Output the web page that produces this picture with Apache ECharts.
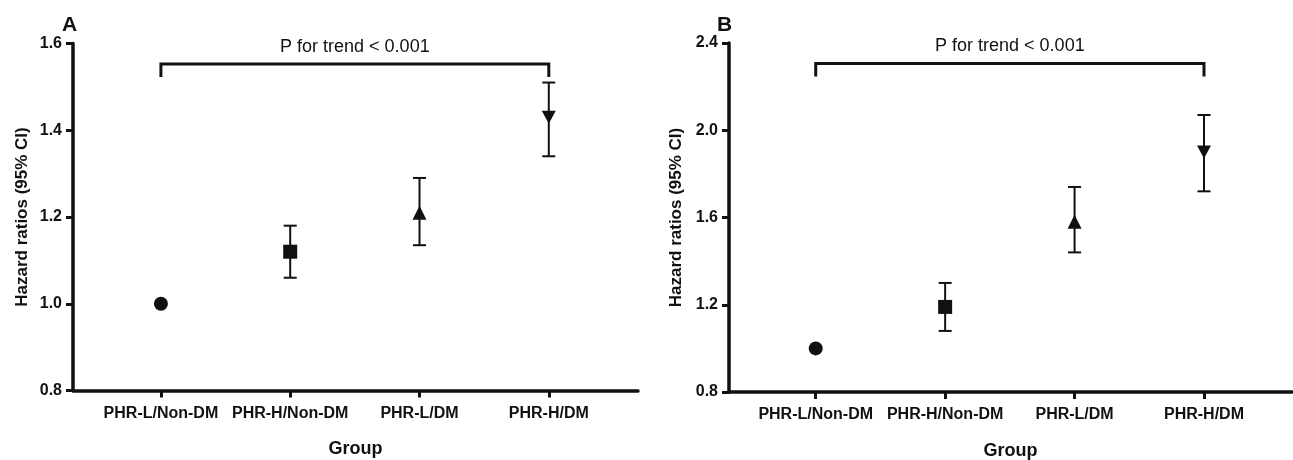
<!DOCTYPE html>
<html>
<head>
<meta charset="utf-8">
<script src="https://cdn.jsdelivr.net/npm/echarts@6/dist/echarts.min.js"></script>
<style>
html,body{margin:0;padding:0;background:#fff;}
#chart{width:1293px;height:460px;}
</style>
</head>
<body>
<div id="chart"></div>
<script>
// ---- data ----
const categories = ['PHR-L/Non-DM', 'PHR-H/Non-DM', 'PHR-L/DM', 'PHR-H/DM'];
const hrA = [1.00, 1.12, 1.21, 1.43];
const lowA = [null, 1.06, 1.135, 1.34];
const highA = [null, 1.18, 1.29, 1.51];
const hrB = [1.00, 1.19, 1.58, 1.90];
const lowB = [null, 1.08, 1.44, 1.72];
const highB = [null, 1.30, 1.74, 2.07];
const yTicksA = [0.8, 1.0, 1.2, 1.4, 1.6];
const yTicksB = [0.8, 1.2, 1.6, 2.0, 2.4];
const panelLabels = ['A', 'B'];
const trendText = 'P for trend < 0.001';
const yName = 'Hazard ratios (95% CI)';
const xName = 'Group';

// ---- styles ----
const INK = '#111';
const FONT = '"Liberation Sans", Arial, sans-serif';
const symbols = ['circle', 'rect', 'triangle', 'path://M0,0 L10,0 L5,10 Z'];
const symbolSizes = [14, 14, [14, 14], [14, 13]];

const chart = echarts.init(document.getElementById('chart'));

function xAxisCfg(idx, min, max) {
  return {
    type: 'value', gridIndex: idx, min: min, max: max,
    name: xName, nameLocation: 'middle', nameGap: 50,
    nameTextStyle: { color: INK, fontFamily: FONT, fontWeight: 'bold', fontSize: 18 },
    axisLine: { show: true, lineStyle: { color: INK, width: 3.5 } },
    axisTick: { show: true, customValues: [1, 2, 3, 4], length: 7, lineStyle: { color: INK, width: 3 } },
    axisLabel: { show: true, customValues: [1, 2, 3, 4], margin: 15, color: INK, fontFamily: FONT, fontWeight: 'bold', fontSize: 16,
      formatter: v => categories[Math.round(v) - 1] || '' },
    splitLine: { show: false }
  };
}
function yAxisCfg(idx, ticks, gap) {
  return {
    type: 'value', gridIndex: idx, min: ticks[0], max: ticks[ticks.length - 1],
    interval: ticks[1] - ticks[0],
    name: yName, nameLocation: 'middle', nameGap: gap,
    nameTextStyle: { color: INK, fontFamily: FONT, fontWeight: 'bold', fontSize: 17 },
    axisLine: { show: true, lineStyle: { color: INK, width: 3.5 } },
    axisTick: { show: true, length: 7, lineStyle: { color: INK, width: 3 } },
    axisLabel: { margin: 11, color: INK, fontFamily: FONT, fontWeight: 'bold', fontSize: 16,
      formatter: v => v.toFixed(1) },
    splitLine: { show: false }
  };
}

function errorSeries(idx, low, high) {
  const data = [];
  low.forEach((l, i) => { if (l != null) data.push([i + 1, l, high[i]]); });
  return {
    type: 'custom', xAxisIndex: idx, yAxisIndex: idx, data: data, z: 2,
    renderItem: function (params, api) {
      const x = api.value(0);
      const pl = api.coord([x, api.value(1)]);
      const ph = api.coord([x, api.value(2)]);
      const cw = 6.5;
      const st = { stroke: INK, lineWidth: 2 };
      return { type: 'group', children: [
        { type: 'line', shape: { x1: ph[0], y1: ph[1], x2: pl[0], y2: pl[1] }, style: st },
        { type: 'line', shape: { x1: ph[0] - cw, y1: ph[1], x2: ph[0] + cw, y2: ph[1] }, style: st },
        { type: 'line', shape: { x1: pl[0] - cw, y1: pl[1], x2: pl[0] + cw, y2: pl[1] }, style: st }
      ]};
    }
  };
}
function pointSeries(idx, hr) {
  return {
    type: 'scatter', xAxisIndex: idx, yAxisIndex: idx, z: 3,
    data: hr.map((v, i) => ({ value: [i + 1, v], symbol: symbols[i], symbolSize: symbolSizes[i] })),
    itemStyle: { color: INK, opacity: 1 },
    emphasis: { disabled: true }
  };
}
function bracketSeries(idx, yTop) {
  return {
    type: 'custom', xAxisIndex: idx, yAxisIndex: idx, data: [[1, categories.length]], z: 4, clip: false,
    renderItem: function (params, api) {
      const a = api.coord([api.value(0), yTop]);
      const b = api.coord([api.value(1), yTop]);
      const top = a[1] + 20.5, drop = 13;
      const st = { stroke: INK, lineWidth: 3, fill: null, lineJoin: 'miter' };
      return { type: 'group', children: [
        { type: 'polyline', shape: { points: [[a[0], top + drop], [a[0], top], [b[0], top], [b[0], top + drop]] }, style: st },
        { type: 'text', style: { text: trendText, x: (a[0] + b[0]) / 2, y: top - 17, align: 'center', verticalAlign: 'middle',
          font: '18px ' + FONT, fill: INK } }
      ]};
    }
  };
}

chart.setOption({
  backgroundColor: '#fff',
  animation: false,
  title: [
    { text: panelLabels[0], left: 57, top: 10, textStyle: { color: INK, fontFamily: FONT, fontWeight: 'bold', fontSize: 21 } },
    { text: panelLabels[1], left: 712, top: 10, textStyle: { color: INK, fontFamily: FONT, fontWeight: 'bold', fontSize: 21 } }
  ],
  grid: [
    { left: 73, right: 655, top: 43.5, bottom: 69.5, containLabel: false, outerBoundsMode: 'none' },
    { left: 729, right: 1, top: 43, bottom: 68, containLabel: false, outerBoundsMode: 'none' }
  ],
  xAxis: [xAxisCfg(0, 0.32, 4.69), xAxisCfg(1, 0.33, 4.68)],
  yAxis: [yAxisCfg(0, yTicksA, 42), yAxisCfg(1, yTicksB, 44)],
  series: [
    errorSeries(0, lowA, highA), pointSeries(0, hrA), bracketSeries(0, yTicksA[yTicksA.length - 1]),
    errorSeries(1, lowB, highB), pointSeries(1, hrB), bracketSeries(1, yTicksB[yTicksB.length - 1])
  ]
});
</script>
</body>
</html>
